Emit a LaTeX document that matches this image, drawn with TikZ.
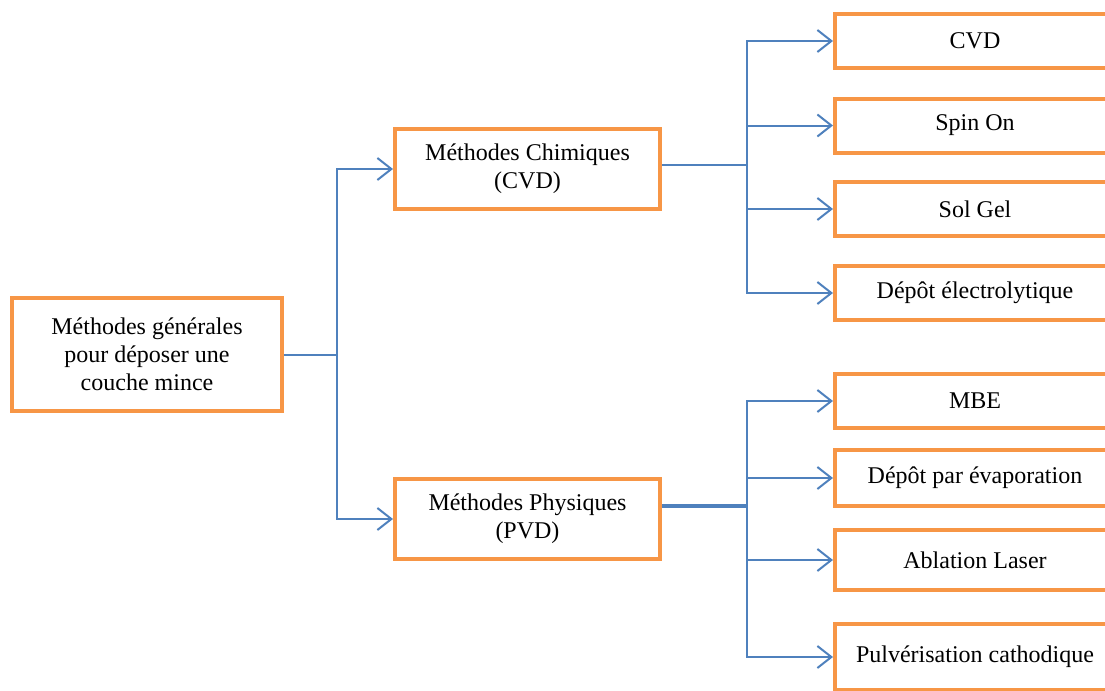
\documentclass[tikz,border=0pt]{standalone}
\usepackage{fontspec}
\setmainfont{Liberation Serif}
\usetikzlibrary{arrows.meta}
\definecolor{boxorange}{HTML}{F79646}
\definecolor{linkblue}{HTML}{4F81BD}
\tikzset{
  box/.style={draw=boxorange,line width=2pt,fill=white,inner sep=0pt,align=center,
    font=\fontsize{12}{14}\selectfont},
  leaf/.style={box,minimum width=140pt,minimum height=27pt},
  link/.style={draw=linkblue,line width=1pt},
  arr/.style={link,-{Straight Barb[length=7pt,width=11pt,line width=1pt]}}
}
\begin{document}
\begin{tikzpicture}[x=0.5pt,y=-0.5pt]
  \useasboundingbox (0,0) rectangle (1105,691);
  % main boxes
  \node[box,minimum width=135pt,minimum height=56.5pt] (gen) at (147,354.5)
    {M\'ethodes g\'en\'erales\\pour d\'eposer une\\couche mince};
  \node[box,minimum width=132.5pt,minimum height=40pt] (chem) at (527.5,169)
    {M\'ethodes Chimiques\\(CVD)};
  \node[box,minimum width=132.5pt,minimum height=40pt] (phys) at (527.5,519)
    {M\'ethodes Physiques\\(PVD)};
  % chemical methods
  \node[leaf] (cvd) at (975,41) {CVD};
  \node[leaf] (spin) at (975,125.5) {Spin On};
  \node[leaf] (solgel) at (975,209) {Sol Gel};
  \node[leaf] (electro) at (975,293) {D\'ep\^ot \'electrolytique};
  % physical methods
  \node[leaf] (mbe) at (975,401) {MBE};
  \node[leaf,minimum height=28pt] (evap) at (975,478) {D\'ep\^ot par \'evaporation};
  \node[leaf,minimum height=30pt] (laser) at (975,560) {Ablation Laser};
  \node[leaf,minimum height=33pt] (pulv) at (975,657) {Pulv\'erisation cathodique};
  % junctions
  \coordinate (gj) at (337,354.5);
  \coordinate (cj) at (747,165);
  \coordinate (pj) at (747,506);
  \draw[link] (gen.east) -- (gj);
  \draw[arr] (gj) |- (chem.west);
  \draw[arr] (gj) |- (phys.west);
  \draw[link] (chem.east |- cj) -- (cj);
  \foreach \n in {cvd,spin,solgel,electro} \draw[arr] (cj) |- (\n.west);
  \draw[link,line width=1.6pt] (phys.east |- pj) -- (pj);
  \foreach \n in {mbe,evap,laser,pulv} \draw[arr] (pj) |- (\n.west);
\end{tikzpicture}
\end{document}
